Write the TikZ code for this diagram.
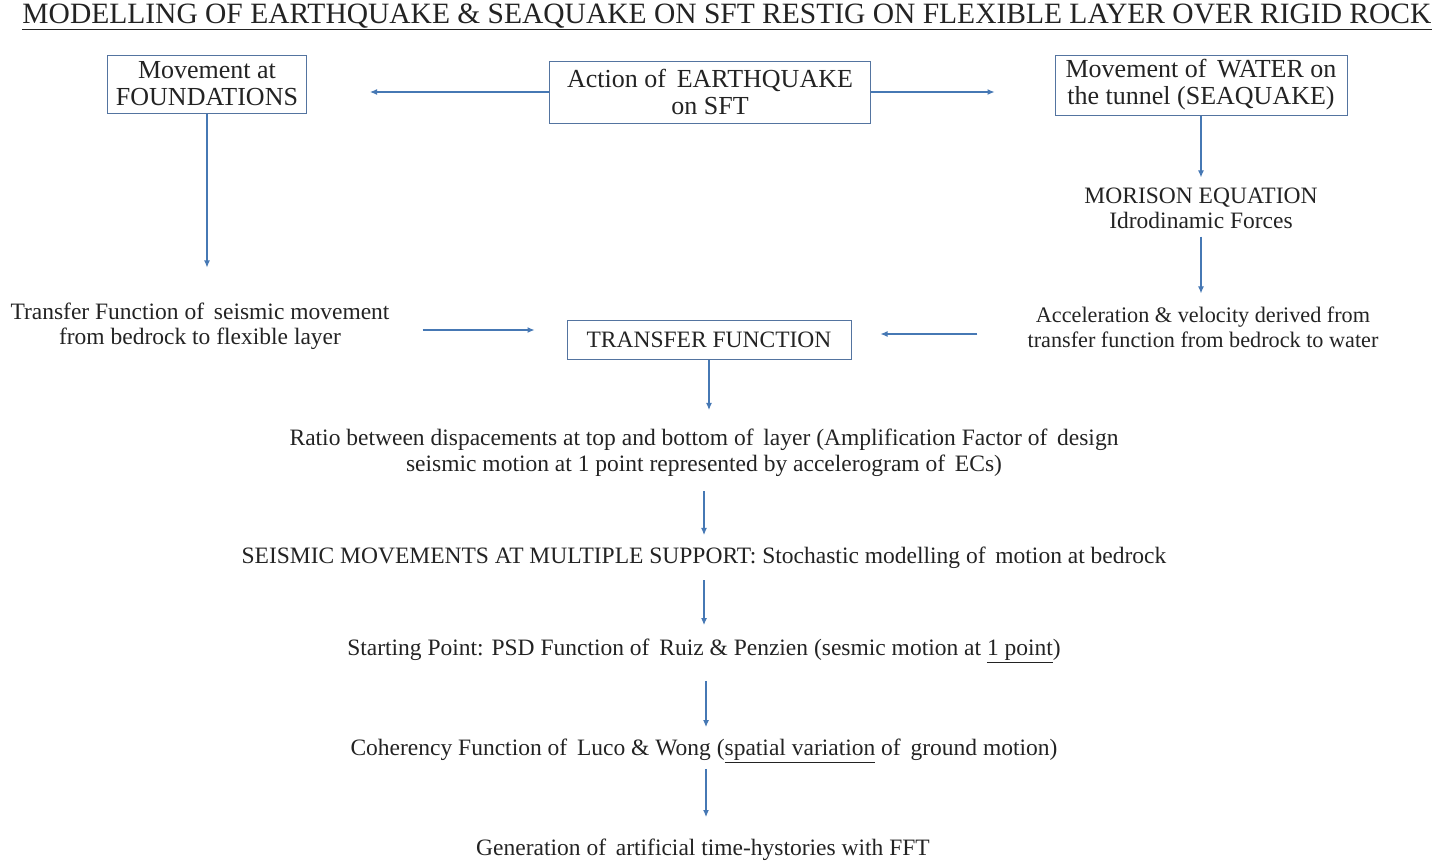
\documentclass[tikz,border=0pt]{standalone}
\usepackage{fontspec}
\setmainfont{Liberation Serif}
\usetikzlibrary{arrows.meta}

\definecolor{flowblue}{RGB}{70,120,180}
\definecolor{boxline}{RGB}{84,116,160}
\definecolor{inkgray}{RGB}{35,35,35}

\begin{document}
\begin{tikzpicture}[> = Latex, x = 1pt, y = -1pt,
        box/.style = {draw = boxline, line width = 1pt, align = center,
            text = inkgray, font = \fontsize{26}{27}\selectfont, inner sep = 0pt},
        txt/.style = {align = center, text = inkgray, inner sep = 0pt,
            font = \fontsize{23.5}{25}\selectfont},
        flow/.style = {->, draw = flowblue, line width = 1.1pt,
            >={Latex[length=7pt, width=6pt]}}
    ]

        % Page frame, in pixels of the reference.
        \useasboundingbox (0, 0) rectangle (1446, 862);

        % Title across the top.
        \node[txt, font = \fontsize{29.5}{31}\selectfont] (title) at (727, 17)
            {\underline{MODELLING OF EARTHQUAKE \& SEAQUAKE ON SFT RESTIG ON FLEXIBLE LAYER OVER RIGID ROCK}};

        % The three boxes in the top row.
        \node[box, minimum width = 199, minimum height = 58] (found) at (207, 84)
            {Movement at\\FOUNDATIONS};
        \node[box, minimum width = 321, minimum height = 62] (action) at (710, 92)
            {Action of\, EARTHQUAKE\\on SFT};
        \node[box, minimum width = 292, minimum height = 60] (water) at (1201, 85)
            {Movement of\, WATER on\\the tunnel (SEAQUAKE)};

        % Seaquake branch on the right.
        \node[txt] (morison) at (1201, 208)
            {MORISON EQUATION\\Idrodinamic Forces};
        \node[txt, font = \fontsize{22.2}{25}\selectfont] (accel) at (1203, 327)
            {Acceleration \& velocity derived from\\transfer function from bedrock to water};

        % Earthquake branch on the left.
        \node[txt] (tfseis) at (200, 326)
            {Transfer Function of\, seismic movement\\from bedrock to flexible layer};

        % Box where both branches meet.
        \node[box, font = \fontsize{23.5}{25}\selectfont, minimum width = 284,
            minimum height = 39] (tf) at (709, 339.5) {TRANSFER FUNCTION};

        % Chain of steps down the middle.
        \node[txt, font = \fontsize{23.5}{26}\selectfont] (ratio) at (704, 453)
            {Ratio between dispacements at top and bottom of\, layer (Amplification Factor of\, design\\
             seismic motion at 1 point represented by accelerogram of\, ECs)};
        \node[txt] (seismic) at (704, 558)
            {SEISMIC MOVEMENTS AT MULTIPLE SUPPORT: Stochastic modelling of\, motion at bedrock};
        \node[txt] (start) at (704, 651)
            {Starting Point: PSD Function of\, Ruiz \& Penzien (sesmic motion at \underline{1 point})};
        \node[txt] (coher) at (704, 751)
            {Coherency Function of\, Luco \& Wong (\underline{spatial variation} of\, ground motion)};
        \node[txt] (gen) at (703, 850)
            {Generation of\, artificial time-hystories with FFT};

        % Arrows out of the action box.
        \draw[flow, shorten > = 63pt] (action.west) -- (action.west -| found.east);
        \draw[flow, shorten > = 60pt] (action.east) -- (action.east -| water.west);

        % Arrows down each branch.
        \draw[flow, shorten > = 35pt] (found.south) -- (found.south |- tfseis.north);
        \draw[flow, shorten > = 10pt] (water.south) -- (water.south |- morison.north);
        \draw[flow, shorten < = 8pt, shorten > = 13pt] (morison.south) -- (morison.south |- accel.north);

        % Arrows into the transfer function box.
        \draw[flow, shorten < = 33pt, shorten > = 32pt] ([yshift = -4pt] tfseis.east) -- ([yshift = -4pt] tfseis.east -| tf.west);
        \draw[flow, shorten < = 50pt, shorten > = 29pt] ([yshift = -7pt] accel.west) -- ([yshift = -7pt] accel.west -| tf.east);

        % Arrows down the middle chain.
        \draw[flow, shorten > = 19pt] (tf.south) -- (tf.south |- ratio.north);
        \draw[flow, shorten < = 14pt, shorten > = 12pt] (ratio.south) -- (ratio.south |- seismic.north);
        \draw[flow, shorten < = 11pt, shorten > = 14pt] (seismic.south) -- (seismic.south |- start.north);
        \draw[flow, shorten < = 18pt, shorten > = 12pt] ([xshift = 2pt] start.south) -- ([xshift = 2pt] start.south |- coher.north);
        \draw[flow, shorten < = 6pt, shorten > = 22pt] ([xshift = 2pt] coher.south) -- ([xshift = 2pt] coher.south |- gen.north);

    \end{tikzpicture}
\end{document}
